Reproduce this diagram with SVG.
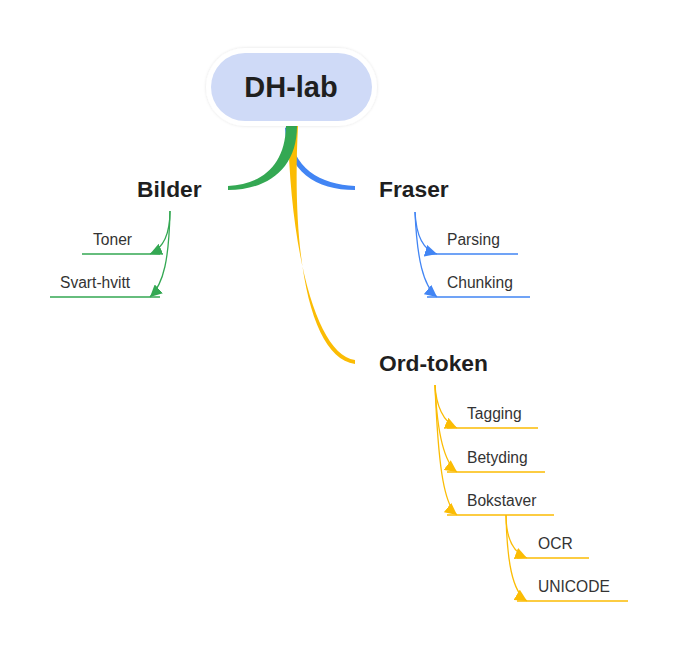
<svg xmlns="http://www.w3.org/2000/svg" width="678" height="651" viewBox="0 0 678 651">
<style>
.hdr{font-family:"Liberation Sans",Arial,sans-serif;font-weight:bold;font-size:22.8px;fill:#1f1f1f}
.lbl{font-family:"Liberation Sans",Arial,sans-serif;font-size:15.6px;fill:#333}
.g{stroke:#34a853;fill:none;stroke-width:1.3}
.b{stroke:#4285f4;fill:none;stroke-width:1.3}
.y{stroke:#fbbc04;fill:none;stroke-width:1.3}
</style>
<defs>
<filter id="sh" x="-20%" y="-30%" width="140%" height="160%">
<feDropShadow dx="0" dy="0" stdDeviation="1.5" flood-color="#000" flood-opacity="0.12"/>
</filter>
<marker id="ag" markerUnits="userSpaceOnUse" markerWidth="12" markerHeight="12" viewBox="0 0 10 10" refX="10" refY="5" orient="auto"><path d="M0,0 L10,5 L0,10 z" fill="#34a853"/></marker>
<marker id="ab" markerUnits="userSpaceOnUse" markerWidth="12" markerHeight="12" viewBox="0 0 10 10" refX="10" refY="5" orient="auto"><path d="M0,0 L10,5 L0,10 z" fill="#4285f4"/></marker>
<marker id="ay" markerUnits="userSpaceOnUse" markerWidth="12" markerHeight="12" viewBox="0 0 10 10" refX="10" refY="5" orient="auto"><path d="M0,0 L10,5 L0,10 z" fill="#fbbc04"/></marker>
</defs>
<rect width="678" height="651" fill="#fff"/>
<g id="connectors">
<path d="M289,126 C291,170 321,184 355,186 L355,190 C316,190 287,172 285,128 Z" fill="#4285f4"/>
<path d="M288,126 C290,250 316,355 355,360 L355,364 C311,358 291,260 298,126 Z" fill="#fbbc04"/>
<path d="M286,126 C285,166 262,184 228,186 L228,190 C266,190 297,170 297,126 Z" fill="#34a853"/>
<path class="g" d="M170,211 C170,234 164,248 150,254" marker-end="url(#ag)"/>
<path class="g" d="M170,211 C169,258 164,284 150,297" marker-end="url(#ag)"/>
<path class="g" d="M82,254 H160 M50,297 H160"/>
<path class="b" d="M415,212 C416,234 423,250 437,254" marker-end="url(#ab)"/>
<path class="b" d="M415,212 C417,258 423,286 437,297" marker-end="url(#ab)"/>
<path class="b" d="M426,254 H518 M427,297 H530"/>
<path class="y" d="M435,385 C436,405 443,422 457,428" marker-end="url(#ay)"/>
<path class="y" d="M435,385 C437,430 443,462 457,472" marker-end="url(#ay)"/>
<path class="y" d="M435,385 C438,460 443,504 457,515" marker-end="url(#ay)"/>
<path class="y" d="M447,428 H538 M447,472 H545 M447,515 H554"/>
<path class="y" d="M506,515 C506,536 512,552 527,558" marker-end="url(#ay)"/>
<path class="y" d="M506,515 C507,560 512,592 527,601" marker-end="url(#ay)"/>
<path class="y" d="M517,558 H589 M517,601 H628"/>
</g>
<g id="root">
<rect x="206" y="48" width="171" height="78" rx="39" fill="#fff" filter="url(#sh)"/>
<rect x="211" y="53" width="161" height="68" rx="34" fill="#cfdaf7"/>
<text x="291" y="97" text-anchor="middle" font-family="Liberation Sans, Arial, sans-serif" font-weight="bold" font-size="29" fill="#1f1f1f">DH-lab</text>
</g>
<g id="bilder"><text class="hdr" x="137" y="197">Bilder</text></g>
<g id="fraser"><text class="hdr" x="379" y="197">Fraser</text></g>
<g id="ordtoken"><text class="hdr" x="379" y="371">Ord-token</text></g>
<g id="toner"><text class="lbl" x="93" y="245">Toner</text></g>
<g id="svarthvitt"><text class="lbl" x="60" y="288">Svart-hvitt</text></g>
<g id="parsing"><text class="lbl" x="447" y="245">Parsing</text></g>
<g id="chunking"><text class="lbl" x="447" y="288">Chunking</text></g>
<g id="tagging"><text class="lbl" x="467" y="419">Tagging</text></g>
<g id="betyding"><text class="lbl" x="467" y="463">Betyding</text></g>
<g id="bokstaver"><text class="lbl" x="467" y="506">Bokstaver</text></g>
<g id="ocr"><text class="lbl" x="538" y="549">OCR</text></g>
<g id="unicode"><text class="lbl" x="538" y="592">UNICODE</text></g>
</svg>
